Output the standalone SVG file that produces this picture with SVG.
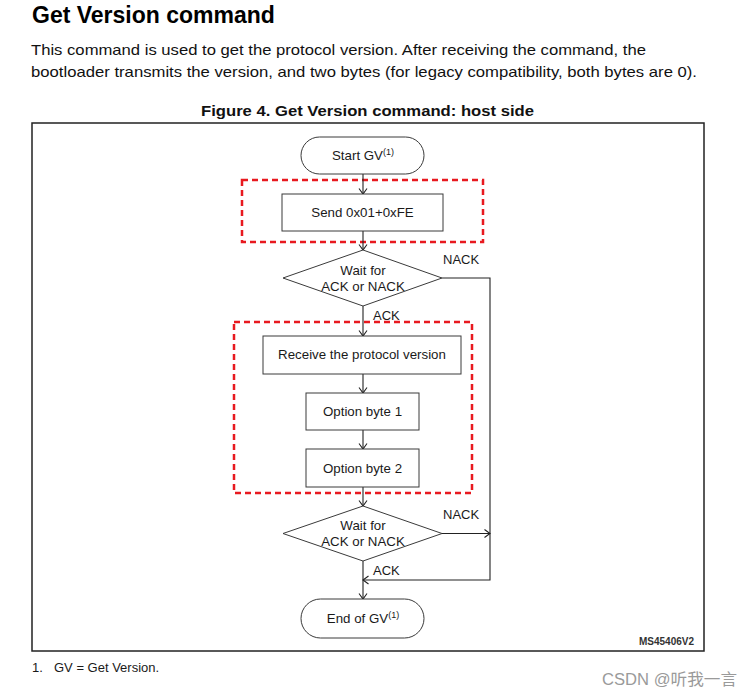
<svg xmlns="http://www.w3.org/2000/svg" width="753" height="697" viewBox="0 0 753 697">
<style>
text{font-family:"Liberation Sans",Arial,sans-serif;fill:#1a1a1a}
.n{font-size:13.3px;text-anchor:middle}
.lbl{font-size:13px}
.box{fill:#fff;stroke:#3a3a3a;stroke-width:1}
.red{fill:none;stroke:#e8191f;stroke-width:2.5;stroke-dasharray:6 4}
.c{fill:none;stroke:#222;stroke-width:1.1}
.sup{font-size:9px}
</style>
<defs>
<marker id="ah" markerWidth="8" markerHeight="10" refX="6" refY="4.5" orient="auto" markerUnits="userSpaceOnUse">
<path d="M0.5,0.5 L6,4.5 L0.5,8.5" fill="none" stroke="#222" stroke-width="1.1"/>
</marker>
</defs>
<rect width="753" height="697" fill="#fff"/>
<text x="32" y="23" style="font-size:23px;font-weight:bold;fill:#000">Get Version command</text>
<text x="31" y="55" style="font-size:15px;fill:#111" textLength="615" lengthAdjust="spacingAndGlyphs">This command is used to get the protocol version. After receiving the command, the</text>
<text x="31" y="77" style="font-size:15px;fill:#111" textLength="666" lengthAdjust="spacingAndGlyphs">bootloader transmits the version, and two bytes (for legacy compatibility, both bytes are 0).</text>
<text x="201" y="116" style="font-size:15px;font-weight:bold;fill:#111" textLength="333" lengthAdjust="spacingAndGlyphs">Figure 4. Get Version command: host side</text>
<rect x="32" y="123" width="672" height="528" fill="none" stroke="#222" stroke-width="1.5"/>
<g id="highlights">
<rect class="red" x="242" y="180" width="241" height="62"/>
<rect class="red" x="234" y="322" width="238" height="171"/>
</g>
<g id="connectors">
<line class="c" x1="363" y1="174" x2="363" y2="194" marker-end="url(#ah)"/>
<line class="c" x1="363" y1="231" x2="363" y2="250" marker-end="url(#ah)"/>
<line class="c" x1="363" y1="306" x2="363" y2="336" marker-end="url(#ah)"/>
<line class="c" x1="363" y1="374" x2="363" y2="393" marker-end="url(#ah)"/>
<line class="c" x1="363" y1="430" x2="363" y2="449" marker-end="url(#ah)"/>
<line class="c" x1="363" y1="487" x2="363" y2="506" marker-end="url(#ah)"/>
<line class="c" x1="363" y1="561" x2="363" y2="599" marker-end="url(#ah)"/>
<polyline class="c" points="442,278 490,278 490,580 363,580" marker-end="url(#ah)"/>
<line class="c" x1="442" y1="533.5" x2="490" y2="533.5" marker-end="url(#ah)"/>
<text class="lbl" x="443" y="264">NACK</text>
<text class="lbl" x="373" y="320">ACK</text>
<text class="lbl" x="443" y="519">NACK</text>
<text class="lbl" x="373" y="575">ACK</text>
</g>
<g id="start">
<rect class="box" x="301" y="137" width="123" height="37" rx="18.5"/>
<text class="n" x="363" y="160">Start GV<tspan class="sup" dy="-5">(1)</tspan></text>
</g>
<g id="send">
<rect class="box" x="282" y="194" width="161" height="37"/>
<text class="n" x="362.5" y="217">Send 0x01+0xFE</text>
</g>
<g id="wait1">
<polygon class="box" points="363,250 442,278 363,306 283,278"/>
<text class="n" x="363" y="275">Wait for</text>
<text class="n" x="363" y="291">ACK or NACK</text>
</g>
<g id="receive">
<rect class="box" x="263" y="336" width="198" height="38"/>
<text class="n" x="362" y="359">Receive the protocol version</text>
</g>
<g id="opt1">
<rect class="box" x="306" y="393" width="113" height="37"/>
<text class="n" x="362.5" y="416">Option byte 1</text>
</g>
<g id="opt2">
<rect class="box" x="306" y="449" width="113" height="38"/>
<text class="n" x="362.5" y="472.5">Option byte 2</text>
</g>
<g id="wait2">
<polygon class="box" points="363,506 442,533.5 363,561 283,533.5"/>
<text class="n" x="363" y="529.5">Wait for</text>
<text class="n" x="363" y="545.5">ACK or NACK</text>
</g>
<g id="end">
<rect class="box" x="301" y="599" width="123" height="39" rx="19.5"/>
<text class="n" x="363" y="623">End of GV<tspan class="sup" dy="-5">(1)</tspan></text>
</g>
<text x="694" y="645" style="font-size:10px;font-weight:bold;text-anchor:end;fill:#333">MS45406V2</text>
<text x="32" y="672" style="font-size:13px">1.</text>
<text x="54" y="672" style="font-size:13px">GV = Get Version.</text>
<text x="602" y="685" style="font-family:'Liberation Sans','Noto Sans CJK SC',sans-serif;font-size:16px;fill:#9a9a9a" textLength="135" lengthAdjust="spacingAndGlyphs">CSDN @听我一言</text>
</svg>
